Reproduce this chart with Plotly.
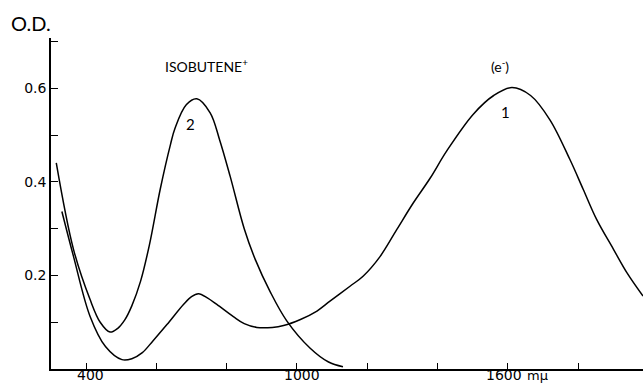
import plotly.graph_objects as go

# Curve 1: solvated electron (e-)
wl_e = [331, 364, 411, 455, 502, 530, 560, 590, 630, 677, 700, 720, 745, 772, 819, 850,
        886, 930, 962, 1010, 1057, 1094, 1151, 1189, 1237, 1284, 1331, 1379, 1426, 1502,
        1560, 1612, 1665, 1720, 1777, 1815, 1853, 1901, 1940, 1985]
od_e = [0.337, 0.241, 0.113, 0.048, 0.020, 0.022, 0.035, 0.060, 0.095, 0.138, 0.155, 0.161,
        0.152, 0.138, 0.112, 0.097, 0.089, 0.089, 0.093, 0.106, 0.124, 0.145, 0.177, 0.199,
        0.241, 0.298, 0.355, 0.408, 0.466, 0.545, 0.585, 0.602, 0.585, 0.533, 0.448, 0.384,
        0.320, 0.256, 0.205, 0.156]

# Curve 2: isobutene cation
wl_i = [315, 364, 411, 440, 468, 490, 510, 530, 555, 580, 611, 640, 653, 685, 715, 753,
        780, 810, 850, 881, 924, 971, 1037, 1090, 1131]
od_i = [0.441, 0.256, 0.149, 0.100, 0.079, 0.087, 0.105, 0.135, 0.188, 0.265, 0.385,
        0.480, 0.515, 0.565, 0.578, 0.548, 0.490, 0.412, 0.300, 0.235, 0.165, 0.103,
        0.045, 0.015, 0.005]

x_tickvals = [400, 600, 800, 1000, 1200, 1400, 1600, 1800]
x_labels = [400, 1000, 1600]
x_label_text = ["400", "1000", "1600"]
y_tickvals = [0.2, 0.4, 0.6]
y_ticktext = ["0.2", "0.4", "0.6"]

W, H = 643, 391
ML, MR, MT, MB = 51, 0, 38, 22
PW, PH = W - ML - MR, H - MT - MB

def px(x, y):
    return (x - ML) / PW, (H - MB - y) / PH

fig = go.Figure()
line = dict(color="black", width=1.5, shape="spline", smoothing=1.0)
fig.add_trace(go.Scatter(x=wl_e, y=od_e, mode="lines", line=line, name="1", hoverinfo="x+y"))
fig.add_trace(go.Scatter(x=wl_i, y=od_i, mode="lines", line=line, name="2", hoverinfo="x+y"))

font = dict(family="Lato, DejaVu Sans, sans-serif", color="black")
tfont = dict(family="DejaVu Sans", color="black", size=14)

annots = [
    ("O.D.", 31, 23, 20, font),
    ("ISOBUTENE<sup>+</sup>", 207, 65, 14, font),
    ("(e<sup>-</sup>)", 500, 65, 14, font),
    ("2", 190, 124, 15, font),
    ("1", 505, 112, 15, font),
    ("m\u03bc", 537, 375, 13, tfont),
]
for text, x, y, size, f in annots:
    ax, ay = px(x, y)
    ff = dict(f)
    ff["size"] = size
    fig.add_annotation(x=ax, y=ay, xref="paper", yref="paper", text=text,
                       showarrow=False, xanchor="center", yanchor="middle",
                       font=ff)

# x tick labels (only some ticks are labelled)
_, label_y = px(0, 375)
for v, t, shift in zip(x_labels, x_label_text, [4, 5, -4]):
    fig.add_annotation(x=v, y=label_y, xref="x", yref="paper", text=t,
                       showarrow=False, xanchor="center", yanchor="middle",
                       xshift=shift, font=tfont)

tick_style = dict(ticks="inside", tickwidth=1.3, tickcolor="black")
fig.update_layout(
    width=W, height=H,
    margin=dict(l=ML, r=MR, t=MT, b=MB, autoexpand=False),
    paper_bgcolor="white", plot_bgcolor="white",
    showlegend=False,
    font=dict(size=13, **font),
    xaxis=dict(range=[300, 1985], tickmode="array", tickvals=x_tickvals,
               showticklabels=False, ticklen=6, **tick_style,
               showline=True, linecolor="black", linewidth=1.6,
               showgrid=False, zeroline=False, automargin=False),
    yaxis=dict(range=[0, 0.708], tickmode="array", tickvals=y_tickvals,
               ticktext=y_ticktext, ticklen=7, **tick_style,
               minor=dict(tickmode="linear", tick0=0.1, dtick=0.2, ticks="inside",
                          ticklen=7, tickwidth=1.3, tickcolor="black", showgrid=False),
               showline=True, linecolor="black", linewidth=1.6,
               showgrid=False, zeroline=False, automargin=False,
               tickfont=dict(family="DejaVu Sans", color="black", size=14)),
)

fig.write_html("out.html")
